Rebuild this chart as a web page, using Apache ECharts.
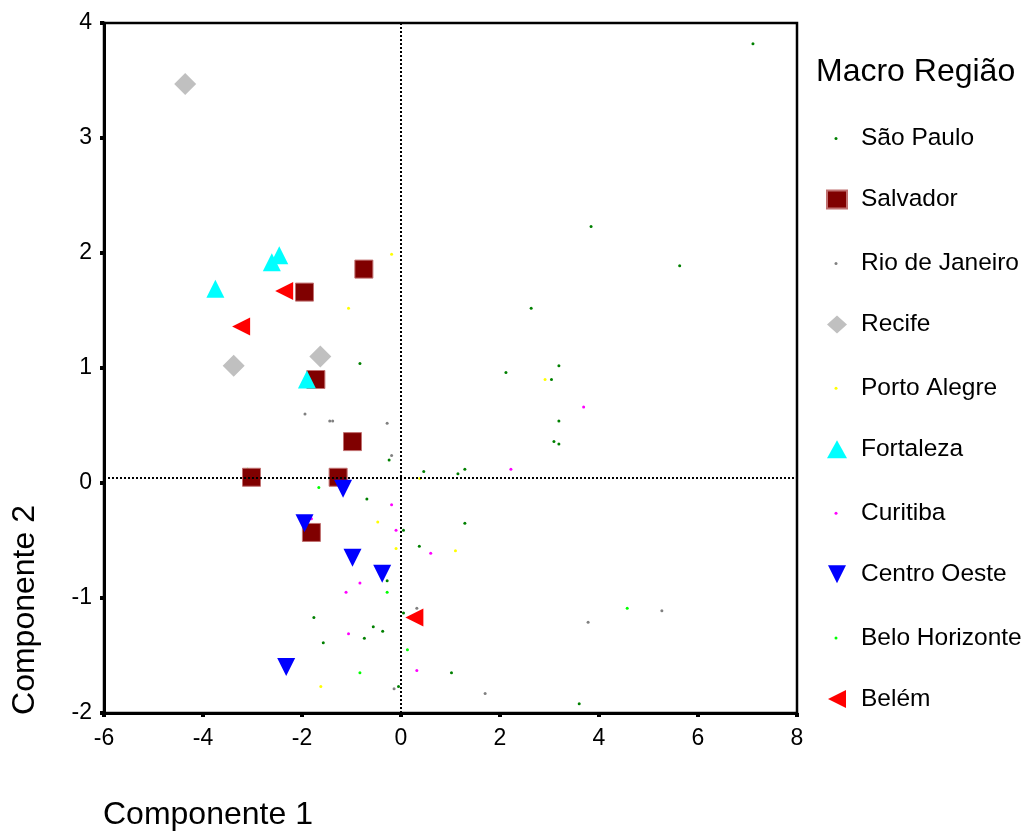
<!DOCTYPE html>
<html>
<head>
<meta charset="utf-8">
<script src="https://cdn.jsdelivr.net/npm/echarts@6/dist/echarts.min.js"></script>
<style>html,body{margin:0;padding:0;background:#fff}#c{width:1029px;height:832px}</style>
</head>
<body>
<div id="c"></div>
<script>
// Series names (legend order)
const seriesNames = ['São Paulo','Salvador','Rio de Janeiro','Recife','Porto Alegre','Fortaleza','Curitiba','Centro Oeste','Belo Horizonte','Belém'];
// Tick labels
const xTicks = [-6,-4,-2,0,2,4,6,8];
const yTicks = [-2,-1,0,1,2,3,4];
// Reference lines
const refX = 0;
const refY = 0.05;

// [Componente 1, Componente 2]
const saoPaulo = [[7.11,3.82],[3.84,2.23],[5.63,1.89],[2.63,1.52],[2.12,0.96],[3.19,1.02],[3.04,0.90],[3.19,0.54],[3.09,0.36],[3.19,0.34],[0.46,0.10],[1.15,0.08],[1.29,0.12],[-0.83,1.04],[-0.24,0.20],[-0.69,-0.14],[0.05,-0.41],[-0.28,-0.85],[0.05,-1.13],[-1.76,-1.17],[-0.56,-1.25],[-0.37,-1.29],[-0.74,-1.35],[-1.57,-1.39],[-0.05,-1.77],[1.29,-0.35],[0.37,-0.55],[1.02,-1.65],[3.60,-1.92]];
const salvador = [[-0.75,1.86],[-1.95,1.66],[-1.72,0.90],[-0.98,0.36],[-3.02,0.05],[-1.27,0.05],[-1.81,-0.43]];
const rioDeJaneiro = [[-1.94,0.60],[-1.44,0.54],[-1.38,0.54],[-0.28,0.52],[-0.19,0.24],[-0.14,-1.79],[0.32,-1.09],[5.27,-1.11],[3.78,-1.21],[1.70,-1.83]];
const recife = [[-4.36,3.47],[-3.38,1.02],[-1.63,1.10]];
const portoAlegre = [[-0.19,1.99],[-1.06,1.52],[2.91,0.90],[0.38,0.04],[-0.47,-0.34],[-0.10,-0.57],[1.10,-0.59],[-1.62,-1.77]];
const fortaleza = [[-2.46,1.98],[-2.61,1.92],[-3.75,1.69],[-1.90,0.90]];
const curitiba = [[3.69,0.66],[2.22,0.12],[-0.19,-0.19],[-1.81,-0.31],[-0.10,-0.41],[-0.83,-0.87],[-1.11,-0.95],[-1.06,-1.31],[0.60,-0.61],[0.32,-1.63]];
const centroOeste = [[-1.17,-0.05],[-1.95,-0.35],[-0.98,-0.65],[-0.38,-0.79],[-2.32,-1.60]];
const beloHorizonte = [[-3.10,0.12],[-1.66,-0.04],[-0.28,-0.95],[0.13,-1.45],[-0.83,-1.65],[4.57,-1.09]];
const belem = [[-2.36,1.67],[-3.23,1.36],[0.27,-1.17]];

const FONT = '"Liberation Sans", Arial, sans-serif';
const DOWN = 'path://M0,0L10,0L5,10Z';
const LEFT = 'path://M0,5L10,0L10,10Z';

function dots(name, data, color) {
  return {name, type:'scatter', data, symbol:'circle', symbolSize:3,
    itemStyle:{color, opacity:1}, emphasis:{disabled:true}, z:2};
}
function big(name, data, symbol, size, color, style) {
  return {name, type:'scatter', data, symbol, symbolSize:size,
    itemStyle:Object.assign({color, opacity:1}, style||{}), emphasis:{disabled:true}, z:3};
}

const chart = echarts.init(document.getElementById('c'), null, {renderer:'canvas'});
const legendText = {fontSize:24.5, fontFamily:FONT, color:'#000', lineHeight:24, padding:[0,0,0,11]};

chart.setOption({
  animation:false,
  backgroundColor:'#fff',
  grid:{left:104, right:232, top:23, bottom:119, show:true, borderColor:'#000', borderWidth:2.5, backgroundColor:'transparent'},
  xAxis:{type:'value', min:-6, max:8, interval:2,
    axisLine:{show:true, onZero:false, lineStyle:{color:'#000', width:3}},
    axisTick:{show:true, length:4, lineStyle:{color:'#000', width:4}},
    axisLabel:{color:'#000', fontSize:23, fontFamily:FONT, margin:14,
      formatter:v => xTicks.includes(v) ? String(v) : ''},
    splitLine:{show:false}},
  yAxis:{type:'value', min:-2, max:4, interval:1,
    axisLine:{show:true, onZero:false, lineStyle:{color:'#000', width:3}},
    axisTick:{show:true, length:4, lineStyle:{color:'#000', width:4}},
    axisLabel:{color:'#000', fontSize:23, fontFamily:FONT, margin:12,
      formatter:v => yTicks.includes(v) ? String(v) : ''},
    splitLine:{show:false}},
  legend:[
    {orient:'vertical', left:834.5, top:126, padding:0, itemWidth:18, itemHeight:3, itemGap:99.9,
     selectedMode:false, icon:'circle', textStyle:legendText,
     data:[seriesNames[0],seriesNames[2],seriesNames[4],seriesNames[6],seriesNames[8]]},
    {orient:'vertical', left:826, top:187, padding:0, itemWidth:20, itemHeight:18, itemGap:99.9,
     selectedMode:false, textStyle:Object.assign({}, legendText, {padding:[0,0,0,9]}),
     data:[seriesNames[1],seriesNames[3],seriesNames[5],seriesNames[7],seriesNames[9]]}
  ],
  graphic:[
    {type:'text', x:816, y:72, style:{text:'Macro Região', font:'32px '+FONT, fill:'#000', verticalAlign:'middle', align:'left'}},
    {type:'text', x:103, y:815, style:{text:'Componente 1', font:'32px '+FONT, fill:'#000', verticalAlign:'middle', align:'left'}},
    {type:'text', x:25, y:610, rotation:Math.PI/2, style:{text:'Componente 2', font:'32px '+FONT, fill:'#000', verticalAlign:'middle', align:'center'}}
  ],
  series:[
    Object.assign(dots(seriesNames[0], saoPaulo, '#008000'), {
      markLine:{silent:true, symbol:'none', label:{show:false}, animation:false,
        lineStyle:{color:'#000', type:[2,2], width:2},
        data:[{xAxis:refX},{yAxis:refY}]}}),
    big(seriesNames[1], salvador, 'rect', 18, '#800000', {borderColor:'#c07070', borderWidth:1}),
    dots(seriesNames[2], rioDeJaneiro, '#808080'),
    big(seriesNames[3], recife, 'diamond', 22, '#c0c0c0'),
    dots(seriesNames[4], portoAlegre, '#ffff00'),
    big(seriesNames[5], fortaleza, 'triangle', 18, '#00ffff'),
    dots(seriesNames[6], curitiba, '#ff00ff'),
    big(seriesNames[7], centroOeste, DOWN, 18, '#0000ff'),
    dots(seriesNames[8], beloHorizonte, '#00ff00'),
    big(seriesNames[9], belem, LEFT, 18, '#ff0000')
  ]
});
</script>
</body>
</html>
